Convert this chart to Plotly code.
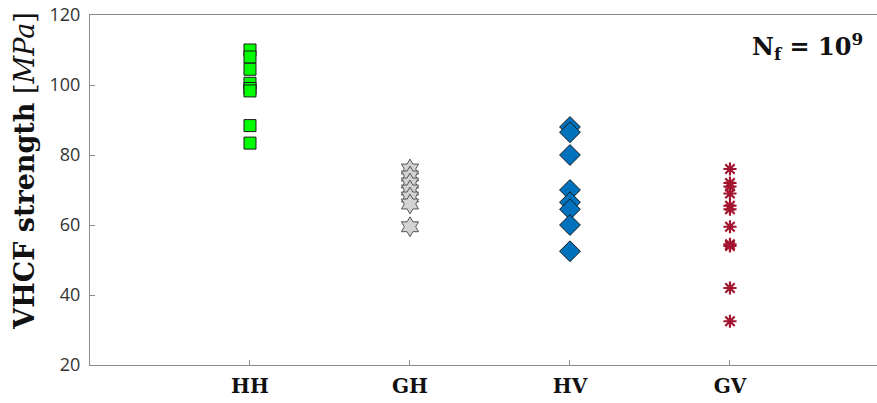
import plotly.graph_objects as go

categories = ["HH", "GH", "HV", "GV"]
cat_pos = [1, 2, 3, 4]
hh = [110, 108, 104.5, 100.5, 99, 98.3, 88.4, 83.4]
gh = [76, 74, 72, 70, 68, 66, 59.5]
hv = [88, 86.5, 80, 70, 66.5, 64.5, 60, 52.5]
gv = [76, 72, 71, 69, 65.5, 64.5, 59.5, 54.5, 54, 42, 32.5]
yticks = [20, 40, 60, 80, 100, 120]

fig = go.Figure()
fig.add_trace(go.Scatter(x=[cat_pos[0]] * len(hh), y=hh, mode="markers",
                         marker=dict(symbol="square", size=12, color="#00FF00",
                                     line=dict(color="#1a1a1a", width=1))))
fig.add_trace(go.Scatter(x=[cat_pos[1]] * len(gh), y=gh, mode="markers",
                         marker=dict(symbol="hexagram", size=15, color="#D3D3D3",
                                     line=dict(color="#555555", width=1))))
fig.add_trace(go.Scatter(x=[cat_pos[2]] * len(hv), y=hv, mode="markers",
                         marker=dict(symbol="diamond", size=16, color="#0072BD",
                                     line=dict(color="#1a1a1a", width=1))))
fig.add_trace(go.Scatter(x=[cat_pos[3]] * len(gv), y=gv, mode="markers",
                         marker=dict(symbol="asterisk-open", size=11, color="#A2142F",
                                     line=dict(color="#A2142F", width=2.2))))

fig.update_layout(
    width=877, height=403,
    margin=dict(l=90, r=0, t=15, b=38),
    plot_bgcolor="white", paper_bgcolor="white",
    showlegend=False,
    xaxis=dict(range=[0, 4.919], tickvals=cat_pos,
               ticktext=["<b>" + c + "</b>" for c in categories],
               showline=True, linecolor="#8c8c8c", linewidth=1, mirror=True,
               ticks="inside", ticklen=5, tickcolor="#8c8c8c",
               showgrid=False, zeroline=False, automargin=False,
               ticklabelstandoff=3,
               tickfont=dict(family="DejaVu Serif", size=20, color="#111111")),
    yaxis=dict(range=[20, 120], tickvals=yticks,
               showline=True, linecolor="#8c8c8c", linewidth=1,
               ticks="inside", ticklen=5, tickcolor="#8c8c8c",
               showgrid=False, zeroline=False, automargin=False,
               ticklabelstandoff=5, ticklabeloverflow="allow",
               tickfont=dict(family="Open Sans", size=18, color="#333333")),
    annotations=[
        dict(text="<b>VHCF strength</b> [<i>MPa</i>]", textangle=-90,
             xref="paper", yref="paper", x=0, xshift=-65, y=0.555,
             xanchor="center", yanchor="middle", showarrow=False,
             font=dict(family="DejaVu Serif", size=27, color="#111111")),
        dict(text="<b>N<sub>f</sub> = 10<sup>9</sup></b>",
             xref="paper", yref="paper", x=1, xshift=-12, y=1, yshift=-12,
             xanchor="right", yanchor="top", showarrow=False,
             font=dict(family="DejaVu Serif", size=24, color="#111111")),
    ],
)

fig.write_html("out.html", config={"displayModeBar": False},
               post_script="document.body.style.margin='0';document.body.style.overflow='hidden';")
